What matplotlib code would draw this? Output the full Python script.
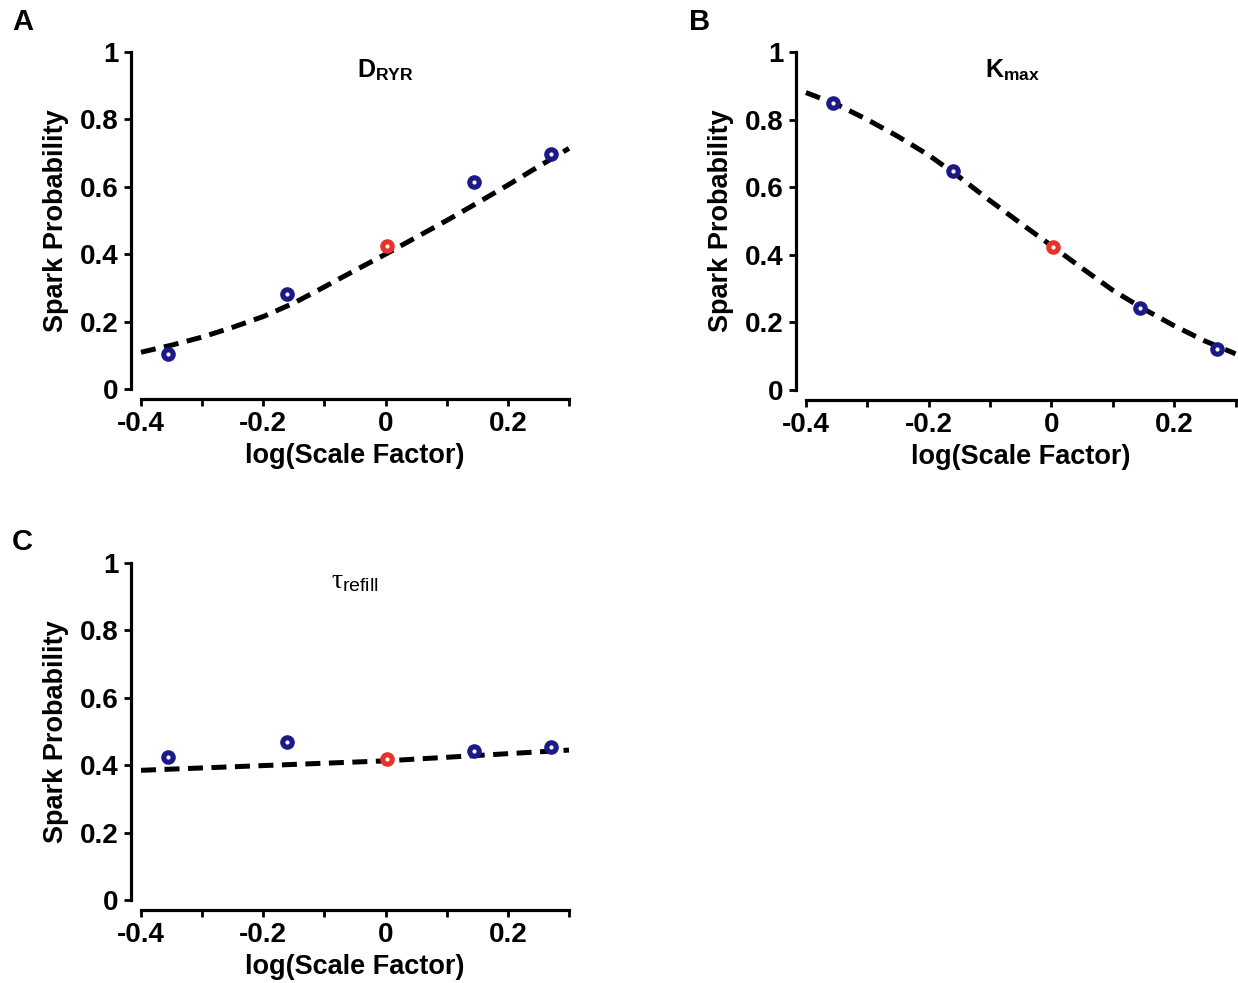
#!/usr/bin/env python3

# spark probability vs log(scale factor) for three model parameters

import matplotlib
matplotlib.use("Agg")
import matplotlib.pyplot as plt
from matplotlib.ticker import MultipleLocator

plt.rcParams["font.family"] = ["Liberation Sans", "DejaVu Sans"]
plt.rcParams["font.weight"] = "bold"
plt.rcParams["mathtext.fontset"] = "custom"
plt.rcParams["mathtext.rm"] = "Liberation Sans:normal"
plt.rcParams["mathtext.bf"] = "Liberation Sans:bold"
plt.rcParams["mathtext.it"] = "Liberation Serif:normal"

# simulated points (log10 of scale factor)
log_sf = [-0.356, -0.161, 0.003, 0.145, 0.27]
drnr_pts = [0.104, 0.283, 0.425, 0.613, 0.697]
kmax_pts = [0.85, 0.647, 0.423, 0.243, 0.12]
tau_pts = [0.423, 0.47, 0.42, 0.443, 0.453]

# fitted curves
fit_x = [-0.4, -0.35, -0.3, -0.25, -0.2, -0.15, -0.1, -0.05, 0.0, 0.05, 0.1, 0.15, 0.2, 0.25, 0.3]
drnr_fit = [0.109, 0.13, 0.154, 0.183, 0.215, 0.255, 0.303, 0.352, 0.40, 0.45, 0.50, 0.552, 0.605, 0.66, 0.714]
kmax_fit = [0.88, 0.845, 0.80, 0.75, 0.695, 0.63, 0.56, 0.493, 0.427, 0.36, 0.295, 0.24, 0.19, 0.145, 0.107]
tau_fit_x = [-0.4, 0.0, 0.3]
tau_fit = [0.385, 0.413, 0.445]

BLUE = "#1c1a86"
RED = "#e8322c"

def panel(ax, fx, fy, py, title, tx, tsize):
	ax.plot(fx, fy, color="black", linewidth=3.6, linestyle=(0, (3.0, 1.7)), zorder=2, clip_on=False)
	cols = [BLUE, BLUE, RED, BLUE, BLUE]
	for x, y, c in zip(log_sf, py, cols):
		ax.plot(x, y, "o", color=c, markersize=9.5, zorder=3)
		ax.plot(x, y, "o", color="white", markersize=2, zorder=4)
	ax.set_xlim(-0.4, 0.3)
	ax.set_ylim(0, 1)
	for s in ("top", "right"):
		ax.spines[s].set_visible(False)
	ax.spines["left"].set_position(("outward", 7))
	ax.spines["bottom"].set_position(("outward", 7))
	ax.spines["left"].set_linewidth(2.3)
	ax.spines["bottom"].set_linewidth(2.3)
	ax.xaxis.set_minor_locator(MultipleLocator(0.1))
	ax.set_xticks([-0.4, -0.2, 0, 0.2])
	ax.set_xticklabels(["-0.4", "-0.2", "0", "0.2"])
	ax.set_yticks([0, 0.2, 0.4, 0.6, 0.8, 1])
	ax.set_yticklabels(["0", "0.2", "0.4", "0.6", "0.8", "1"])
	ax.tick_params(which="both", direction="out", length=5, width=2, labelsize=20, pad=4)
	ax.set_xlabel("log(Scale Factor)", fontsize=19.5, fontweight="bold", labelpad=4)
	ax.set_ylabel("Spark Probability", fontsize=19.5, fontweight="bold", labelpad=8)
	ax.text(tx, 0.985, title, ha="center", va="top", fontsize=tsize)

fig = plt.figure(figsize=(12.38, 9.83), dpi=100)
axA = fig.add_axes([0.1139, 0.6043, 0.3457, 0.3428])
axB = fig.add_axes([0.651, 0.6033, 0.347, 0.3438])
axC = fig.add_axes([0.1139, 0.0844, 0.3457, 0.3428])

panel(axA, fit_x, drnr_fit, drnr_pts, r"$\mathbf{D}_{\mathbf{RYR}}$", 0.0, 18)
panel(axB, fit_x, kmax_fit, kmax_pts, r"$\mathbf{K}_{\mathbf{max}}$", -0.064, 18)
panel(axC, tau_fit_x, tau_fit, tau_pts, r"$\tau_{\mathrm{refill}}$", -0.05, 20)

for letter, x, y in (("A", 0.018, 0.978), ("B", 0.565, 0.978), ("C", 0.018, 0.449)):
	fig.text(x, y, letter, fontsize=21, fontweight="bold", ha="center", va="center")

fig.savefig("out.png", dpi=100)
plt.close()
